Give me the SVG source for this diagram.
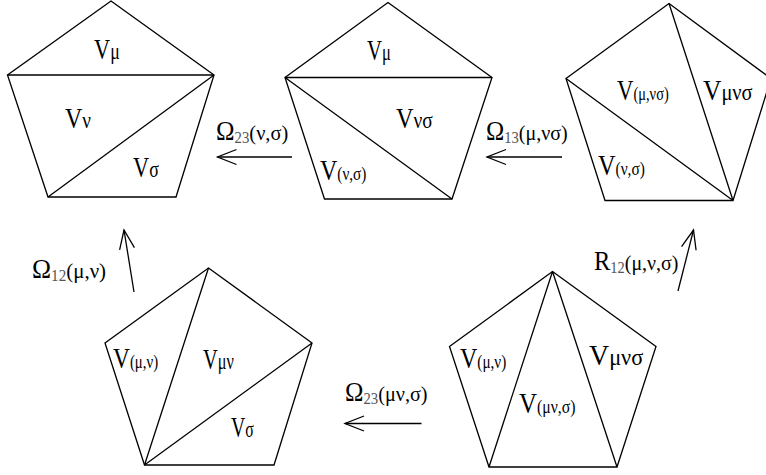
<svg xmlns="http://www.w3.org/2000/svg" width="766" height="475" viewBox="0 0 766 475">
<style>
.p{fill:none;stroke:#000;stroke-width:1.3;stroke-linejoin:miter}
.c{fill:none;stroke:#000;stroke-width:1.3}
text{font-family:"Liberation Serif","Times New Roman",serif;fill:#000}
.V{font-size:30px}
.s{font-size:24px}
.ps{font-size:19px}
.O{font-size:27px}
.n{font-size:16px;fill:#555}
.a{font-size:22px}
</style>
<defs>
<marker id="ah" markerUnits="userSpaceOnUse" markerWidth="40" markerHeight="40" refX="0" refY="0" orient="auto" overflow="visible">
<path d="M-19,-7.5 L0,0 L-19,7.5" fill="none" stroke="#000" stroke-width="1.3"/>
</marker>
</defs>

<g id="p1">
<polygon class="p" points="111,1 214,75 176,197 48,197 7.5,75"/>
<path class="p" d="M7.5,75 L214,75 M214,75 L48,197"/>
<text transform="translate(94,59) scale(0.745,1)"><tspan class="V">V</tspan><tspan class="s">μ</tspan></text>
<text transform="translate(65,128) scale(0.8,1)"><tspan class="V">V</tspan><tspan class="s">ν</tspan></text>
<text transform="translate(133,177) scale(0.745,1)"><tspan class="V">V</tspan><tspan class="s">σ</tspan></text>
</g>

<g id="p2">
<polygon class="p" points="388,2.5 492,77.5 452,199 324.5,199 285,77.5"/>
<path class="p" d="M285,77.5 L492,77.5 M285,77.5 L452,199"/>
<text transform="translate(367,60) scale(0.69,1)"><tspan class="V">V</tspan><tspan class="s">μ</tspan></text>
<text transform="translate(396,128) scale(0.81,1)"><tspan class="V">V</tspan><tspan class="s">νσ</tspan></text>
<text transform="translate(320,180) scale(0.8,1)"><tspan class="V">V</tspan><tspan class="ps">(ν,σ)</tspan></text>
</g>

<g id="p3">
<polygon class="p" points="669,3.5 771,78.5 733,200.5 605,200.5 566,78.5"/>
<path class="p" d="M669,3.5 L733,200.5 M566,78.5 L733,200.5"/>
<text transform="translate(617,100) scale(0.76,1)"><tspan class="V">V</tspan><tspan class="ps">(μ,νσ)</tspan></text>
<text transform="translate(703,100) scale(0.85,1)"><tspan class="V">V</tspan><tspan class="s">μνσ</tspan></text>
<text transform="translate(598,175) scale(0.81,1)"><tspan class="V">V</tspan><tspan class="ps">(ν,σ)</tspan></text>
</g>

<g id="p4">
<polygon class="p" points="208.5,268 312,343 274,465 144.5,465 105,343"/>
<path class="p" d="M144.5,465 L208.5,268 M144.5,465 L312,343"/>
<text transform="translate(113,368) scale(0.78,1)"><tspan class="V">V</tspan><tspan class="ps">(μ,ν)</tspan></text>
<text transform="translate(203,369) scale(0.68,1)"><tspan class="V">V</tspan><tspan class="s">μν</tspan></text>
<text transform="translate(231,437) scale(0.66,1)"><tspan class="V">V</tspan><tspan class="s">σ</tspan></text>
</g>

<g id="p5">
<polygon class="p" points="552.5,271.5 656,346.5 617,467 489,467 449.5,346.5"/>
<path class="p" d="M552.5,271.5 L489,467 M552.5,271.5 L617,467"/>
<text transform="translate(460,368) scale(0.8,1)"><tspan class="V">V</tspan><tspan class="ps">(μ,ν)</tspan></text>
<text transform="translate(519,413) scale(0.83,1)"><tspan class="V">V</tspan><tspan class="ps">(μν,σ)</tspan></text>
<text transform="translate(589,365) scale(0.93,1)"><tspan class="V">V</tspan><tspan class="s">μνσ</tspan></text>
</g>

<g id="connectors">
<line class="c" x1="292" y1="157" x2="217.5" y2="157" marker-end="url(#ah)"/>
<line class="c" x1="562" y1="157" x2="487" y2="157" marker-end="url(#ah)"/>
<line class="c" x1="134" y1="292" x2="124" y2="230" marker-end="url(#ah)"/>
<line class="c" x1="678" y1="291" x2="693.5" y2="230" marker-end="url(#ah)"/>
<line class="c" x1="421.5" y1="423.5" x2="345" y2="423.5" marker-end="url(#ah)"/>
</g>

<g id="labels">
<text transform="translate(216,140) scale(0.925,1)"><tspan class="O">Ω</tspan><tspan class="n" dy="3">23</tspan><tspan class="a" dy="-3">(ν,σ)</tspan></text>
<text transform="translate(486,140) scale(0.91,1)"><tspan class="O">Ω</tspan><tspan class="n" dy="3">13</tspan><tspan class="a" dy="-3">(μ,νσ)</tspan></text>
<text transform="translate(32,278) scale(0.95,1)"><tspan class="O">Ω</tspan><tspan class="n" dy="3">12</tspan><tspan class="a" dy="-3">(μ,ν)</tspan></text>
<text transform="translate(594,270) scale(0.906,1)"><tspan class="O">R</tspan><tspan class="n" dy="3">12</tspan><tspan class="a" dy="-3">(μ,ν,σ)</tspan></text>
<text transform="translate(345,401) scale(0.92,1)"><tspan class="O">Ω</tspan><tspan class="n" dy="3">23</tspan><tspan class="a" dy="-3">(μν,σ)</tspan></text>
</g>
</svg>
